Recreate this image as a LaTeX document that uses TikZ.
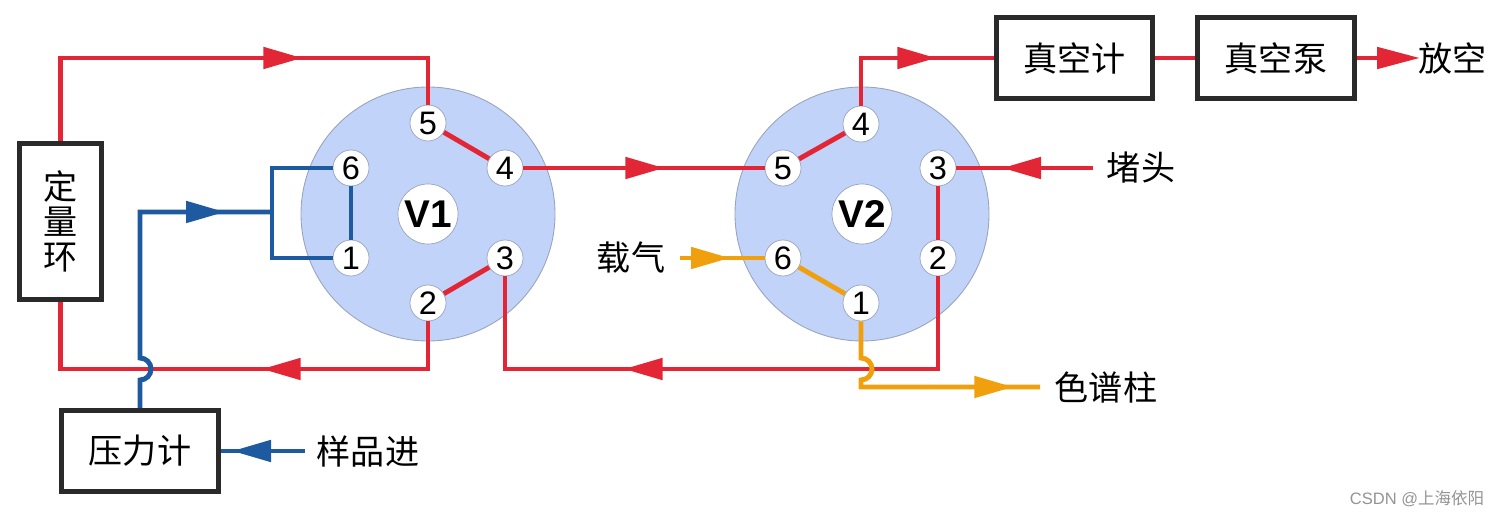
\documentclass[tikz,border=0pt]{standalone}
\usepackage{fontspec}
\setmainfont{Noto Sans CJK SC}
\newfontfamily\numfont{Liberation Sans}
\usetikzlibrary{arrows.meta,decorations.markings}
\definecolor{valvefill}{HTML}{C2D3FA}
\definecolor{valveline}{HTML}{98A4BC}
\definecolor{redflowc}{HTML}{E32636}
\definecolor{blueflowc}{HTML}{1E5AA0}
\definecolor{oranflowc}{HTML}{F0A00C}
\definecolor{ink}{HTML}{2A2A2A}

\begin{document}
\begin{tikzpicture}[
  valve/.style={circle, draw=valveline, line width=0.5pt, fill=valvefill, minimum size=5.08cm, inner sep=0pt},
  hubnode/.style={circle, draw=valveline, line width=0.4pt, fill=white, minimum size=1.2cm, inner sep=0pt, font=\numfont\fontsize{22}{22}\selectfont\bfseries},
  portnode/.style={circle, draw=valveline, line width=0.4pt, fill=white, minimum size=0.72cm, inner sep=0pt, font=\numfont\fontsize{18.5}{19}\selectfont},
  devbox/.style={draw=ink, line width=2.7pt, fill=white, inner sep=0pt, minimum width=3.13cm, minimum height=1.63cm, font=\fontsize{19.4}{20}\selectfont},
  tag/.style={inner sep=0pt, font=\fontsize{19.4}{20}\selectfont},
  pipe/.style={line width=2.8pt},
  redflow/.style={pipe, draw=redflowc},
  blueflow/.style={pipe, draw=blueflowc},
  oranflow/.style={pipe, draw=oranflowc},
  flowmark/.style={postaction={decorate, decoration={markings,
    mark=at position #1 with {\arrow{Triangle[length=0.78cm, width=0.42cm]}}}}},
  endtip/.style={-{Triangle[length=0.86cm, width=0.42cm]}},
]
\useasboundingbox (0,0) rectangle (30.02,10.36);

% ===== valve V1 =====
\node[valve] (v1) at (8.56,6.08) {};
\node[hubnode] (v1hub) at (8.56,6.08) {V1};
\node[portnode] (v1p1) at (7.02,5.20) {1};
\node[portnode] (v1p2) at (8.56,4.30) {2};
\node[portnode] (v1p3) at (10.10,5.20) {3};
\node[portnode] (v1p4) at (10.10,7.00) {4};
\node[portnode] (v1p5) at (8.56,7.90) {5};
\node[portnode] (v1p6) at (7.02,7.00) {6};

% ===== valve V2 =====
\node[valve] (v2) at (17.24,6.08) {};
\node[hubnode] (v2hub) at (17.24,6.08) {V2};
\node[portnode] (v2p1) at (17.22,4.30) {1};
\node[portnode] (v2p2) at (18.76,5.20) {2};
\node[portnode] (v2p3) at (18.76,7.00) {3};
\node[portnode] (v2p4) at (17.22,7.88) {4};
\node[portnode] (v2p5) at (15.66,7.00) {5};
\node[portnode] (v2p6) at (15.66,5.20) {6};

% ===== boxes =====
\node[devbox, minimum width=1.64cm, minimum height=3.12cm, align=center] (loopbox) at (1.21,5.93)
  {定\\量\\环};
\node[devbox] (gauge) at (2.80,1.34) {压力计};
\node[devbox] (vacgauge) at (21.49,9.20) {真空计};
\node[devbox] (vacpump) at (25.52,9.20) {真空泵};

% ===== free labels =====
\node[tag] (sample) at (7.36,1.34) {样品进};
\node[tag] (vent) at (29.05,9.20) {放空};
\node[tag] (plug) at (22.82,7.00) {堵头};
\node[tag] (carrier) at (12.62,5.20) {载气};
\node[tag] (column) at (22.12,2.62) {色谱柱};
\node[inner sep=0pt, text=black!42, font=\fontsize{9.4}{10}\selectfont] (mark) at (28.34,0.38)
  {{\numfont CSDN @}上海依阳};

% ===== free ends and corners =====
\coordinate (topleft) at (8.56,9.20);
\coordinate (botleft) at (8.56,2.98);
\coordinate (botright) at (18.76,2.98);
\coordinate (v1drop) at (10.10,2.98);
\coordinate (split) at (5.44,6.12);
\coordinate (samplein) at (6.10,1.34);
\coordinate (plugin) at (21.86,7.00);
\coordinate (carrierin) at (13.60,5.20);
\coordinate (columnout) at (20.80,2.62);
\coordinate (ventout) at (28.40,9.20);

% ===== red sample loop =====
\draw[redflow, flowmark=6.50cm] (loopbox.north) |- (topleft) -- (v1p5.north);
\draw[redflow, flowmark=4.28cm] (v1p2.south) -- (botleft) -| (loopbox.south);
\draw[redflow] (v1p5) -- (v1p4);
\draw[redflow] (v1p3) -- (v1p2);
\draw[redflow, flowmark=2.82cm] (v1p4) -- (v2p5);
\draw[redflow] (v2p4) -- (v2p5);
\draw[redflow, flowmark=2.46cm] (v2p4.north) |- (vacgauge.west);
\draw[redflow] (vacgauge) -- (vacpump);
\draw[redflow, endtip] (vacpump.east) -- (ventout);
\draw[redflow, flowmark=1.82cm] (plugin) -- (v2p3);
\draw[redflow] (v2p3) -- (v2p2);
\draw[redflow, flowmark=8.14cm] (v2p2.south) -- (botright) -- (v1drop) -- (v1p3.south);

% ===== blue sample in =====
\draw[blueflow, flowmark=1.46cm] (samplein) -- (gauge.east);
\draw[blueflow, flowmark=5.87cm] (gauge.north) -- (2.80,2.76) arc[start angle=-90, end angle=90, radius=0.22] |- (split);
\draw[blueflow] (v1p6.west) -| (split) |- (v1p1.west);
\draw[blueflow] (v1p6) -- (v1p1);

% ===== orange carrier =====
\draw[oranflow, flowmark=1.00cm] (carrierin) -- (v2p6);
\draw[oranflow] (v2p6) -- (v2p1);
\draw[oranflow, flowmark=4.61cm] (v2p1.south) -- (17.22,3.20) arc[start angle=90, end angle=-90, radius=0.22] |- (columnout);

\end{tikzpicture}
\end{document}
